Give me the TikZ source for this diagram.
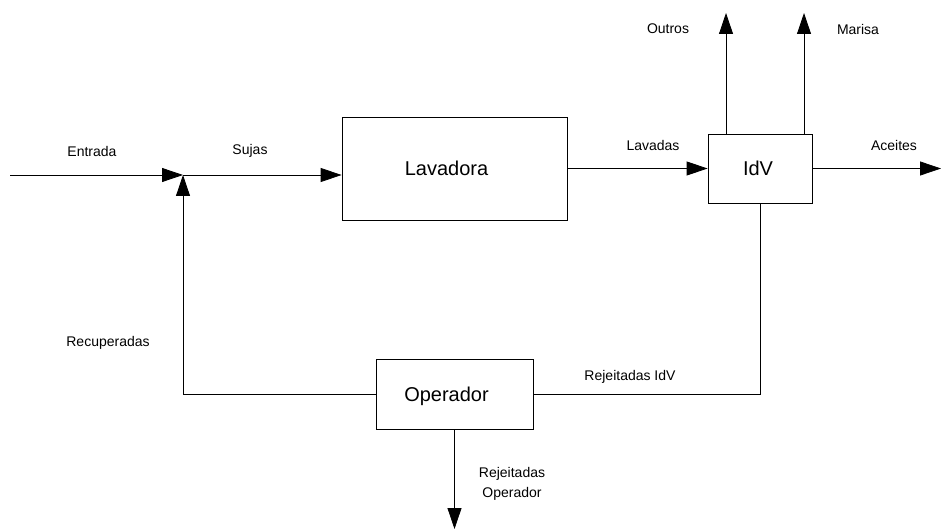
\documentclass[tikz,border=0pt]{standalone}
\usepackage{fontspec}
\setmainfont{Liberation Sans}
\usetikzlibrary{positioning,arrows.meta}

\begin{document}
\begin{tikzpicture}[
		x=1pt,y=-1pt
		,every node/.append style={inner sep=0pt}
		,blk/.style={draw, line width=.8pt}
		,btxt/.style={font=\fontsize{20}{22}\selectfont, xshift=-8pt}
		,lbl/.style={font=\fontsize{14}{20}\selectfont, align=center}
		,fl/.style={line width=.8pt, -{Triangle[length=21pt,width=14pt]}}
		,ln/.style={line width=.8pt}
	]
		\useasboundingbox (0,0) rectangle (941,529);
		% blocos
		\node [blk, minimum width=225pt, minimum height=103pt
			,label={[btxt]center:Lavadora}] (Lav) at (454.5,168.5) {};
		\node [blk, minimum width=104pt, minimum height=69pt
			,label={[btxt, xshift=6pt]center:IdV}] (IdV) at (760,168.5) {};
		\node [blk, minimum width=157pt, minimum height=70pt
			,label={[btxt, yshift=-2pt]center:Operador}] (Op) at (454.5,394) {};
		% pontos livres
		\coordinate (E) at (10,175);
		\coordinate (J) at (183,175);
		\coordinate (Ac) at (941,168.5);
		\coordinate (Ou) at (726,13);
		\coordinate (Ma) at (804,13);
		\coordinate (RO) at (454.5,529);
		% fluxos
		\draw [fl] (E) -- (J);
		\draw [fl] (J) -- (J -| Lav.west);
		\draw [fl] (Op.west) -| (J);
		\draw [fl] (Lav.east |- IdV.west) -- (IdV.west);
		\draw [fl] (IdV.east) -- (Ac);
		\draw [fl] (Ou |- IdV.north) -- (Ou);
		\draw [fl] (Ma |- IdV.north) -- (Ma);
		\draw [ln] (IdV.south) |- (Op.east);
		\draw [fl] (Op.south) -- (RO);
		% etiquetas
		\node [lbl] (lE) at (92,151) {Entrada};
		\node [lbl] (lS) at (250,151) {Sujas};
		\node [lbl] (lL) at (653,145) {Lavadas};
		\node [lbl] (lA) at (894,145) {Aceites};
		\node [lbl] (lO) at (668,29) {Outros};
		\node [lbl] (lM) at (858,29) {Marisa};
		\node [lbl] (lR) at (108,343) {Recuperadas};
		\node [lbl] (lRI) at (630,377) {Rejeitadas IdV};
		\node [lbl] (lRO) at (512,484) {Rejeitadas\\Operador};
	\end{tikzpicture}
\end{document}
